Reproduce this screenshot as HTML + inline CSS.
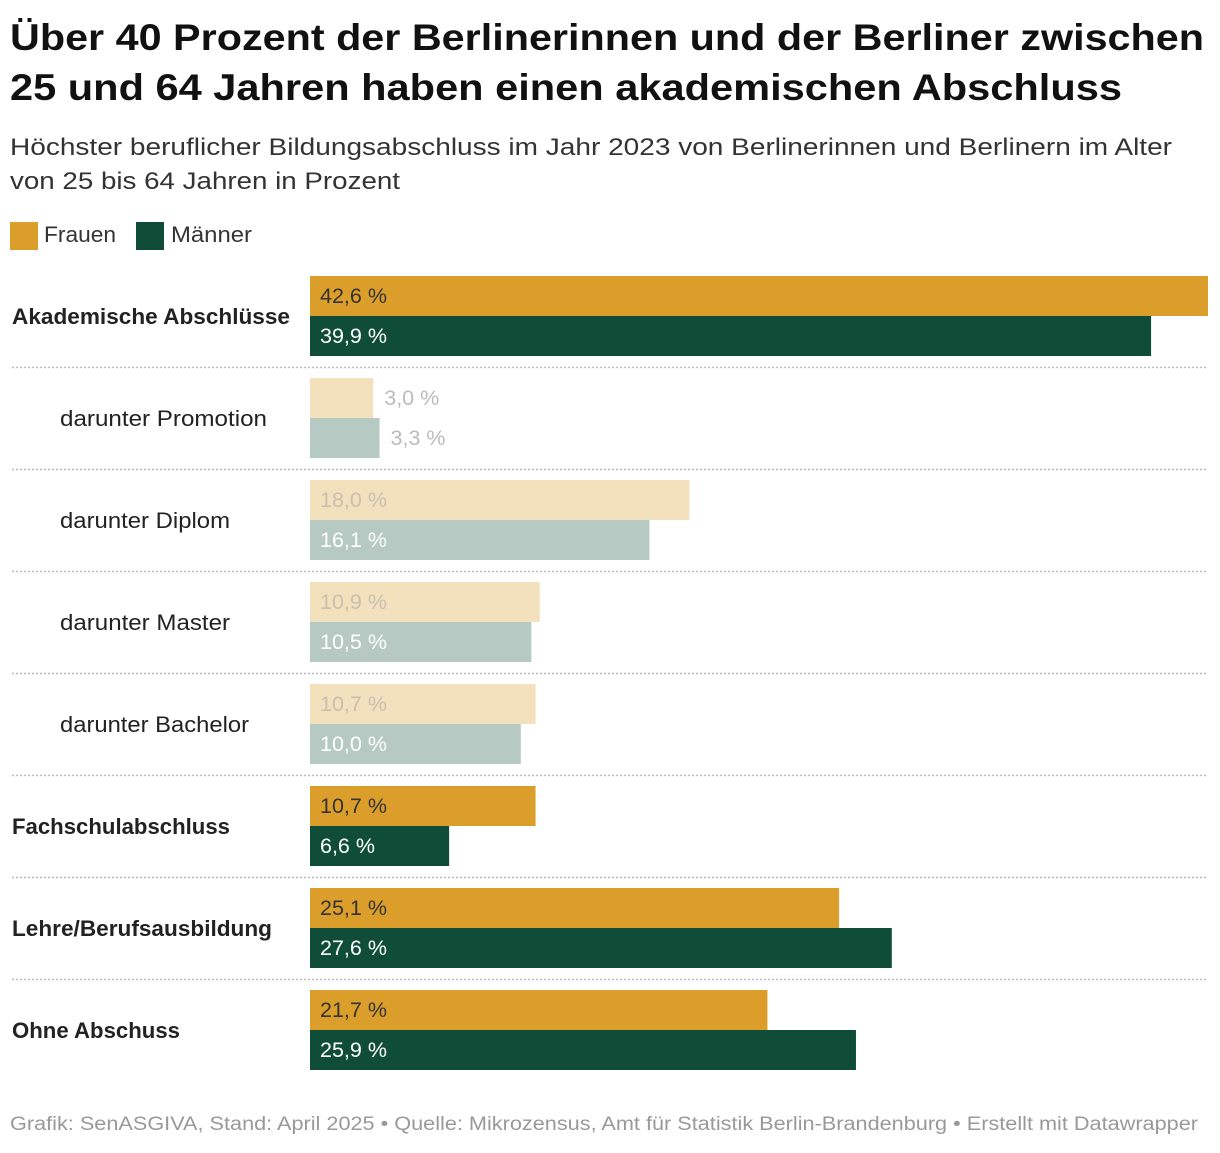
<!DOCTYPE html>
<html><head><meta charset="utf-8">
<style>
body{margin:0;background:#fff;width:1220px;height:1148px;overflow:hidden;font-family:"Liberation Sans",sans-serif;}
</style></head>
<body>
<svg id="chart" width="1220" height="1148" xmlns="http://www.w3.org/2000/svg" font-family="Liberation Sans, sans-serif">
<text x="10" y="50" font-size="37" font-weight="bold" fill="#111" textLength="1194" lengthAdjust="spacingAndGlyphs">Über 40 Prozent der Berlinerinnen und der Berliner zwischen</text>
<text x="10" y="100" font-size="37" font-weight="bold" fill="#111" textLength="1112" lengthAdjust="spacingAndGlyphs">25 und 64 Jahren haben einen akademischen Abschluss</text>
<text x="10" y="155" font-size="24" fill="#333" textLength="1162" lengthAdjust="spacingAndGlyphs">Höchster beruflicher Bildungsabschluss im Jahr 2023 von Berlinerinnen und Berlinern im Alter</text>
<text x="10" y="189" font-size="24" fill="#333" textLength="390" lengthAdjust="spacingAndGlyphs">von 25 bis 64 Jahren in Prozent</text>
<rect x="10" y="222" width="28" height="28" fill="#dc9e2b"/>
<text x="44" y="242" font-size="22" fill="#333" textLength="72" lengthAdjust="spacingAndGlyphs">Frauen</text>
<rect x="136" y="222" width="28" height="28" fill="#0f4d38"/>
<text x="171" y="242" font-size="22" fill="#333" textLength="81" lengthAdjust="spacingAndGlyphs">Männer</text>
<g id="bars"></g>
<text x="10" y="1130" font-size="19" fill="#999" textLength="1188" lengthAdjust="spacingAndGlyphs">Grafik: SenASGIVA, Stand: April 2025 • Quelle: Mikrozensus, Amt für Statistik Berlin-Brandenburg • Erstellt mit Datawrapper</text>
</svg>
<script>
const categories = ["Akademische Abschlüsse","darunter Promotion","darunter Diplom","darunter Master","darunter Bachelor","Fachschulabschluss","Lehre/Berufsausbildung","Ohne Abschuss"];
const frauen = [42.6,3.0,18.0,10.9,10.7,10.7,25.1,21.7];
const maenner = [39.9,3.3,16.1,10.5,10.0,6.6,27.6,25.9];
const sub = [false,true,true,true,true,false,false,false];
const labelWidths = [278,207,170,170,189,218,260,168];

const NS="http://www.w3.org/2000/svg";
const g=document.getElementById('bars');
const x0=310, xMax=42.6, xW=898;
const xs=v=>v/xMax*xW;
const rowY=i=>276+i*102;
function el(t,a){const e=document.createElementNS(NS,t);for(const k in a)e.setAttribute(k,a[k]);g.appendChild(e);return e;}
const fmt=v=>v.toFixed(1).replace('.',',')+' %';
categories.forEach((c,i)=>{
  const y=rowY(i);
  const lab=el('text',{x:sub[i]?60:12,y:y+48,'font-size':22,'font-weight':sub[i]?'normal':'bold',fill:'#222',textLength:labelWidths[i],lengthAdjust:'spacingAndGlyphs'});
  lab.textContent=c;
  
  
  [[frauen,sub[i]?'#f3e1bd':'#dc9e2b',0,'frauen'],[maenner,sub[i]?'#b6c9c2':'#0f4d38',40,'maenner']].forEach(([arr,col,off,nm])=>{
    const v=arr[i], w=xs(v);
    const r=el('rect',{x:x0,y:y+off,width:w,height:40,fill:col});
    
    
    const inside=w>80;
    let tc;
    if(!inside) tc='#bbb';
    else if(sub[i]) tc=nm==='frauen'?'#c9c0b0':'#fff';
    else tc=nm==='frauen'?'#333':'#fff';
    const s=fmt(v);
    const t=el('text',{x:inside?x0+10:x0+w+11,y:y+off+27,'font-size':21,fill:tc,textLength:s.length>5?67:55,lengthAdjust:'spacingAndGlyphs'});
    t.textContent=s;
    
    
  });
  if(i<categories.length-1){
    const l=el('line',{x1:12,x2:1208,y1:y+91.5,y2:y+91.5,stroke:'#bbb','stroke-width':1.5,'stroke-dasharray':'2,2'});
    
    
  }
});
</script>
</body></html>
